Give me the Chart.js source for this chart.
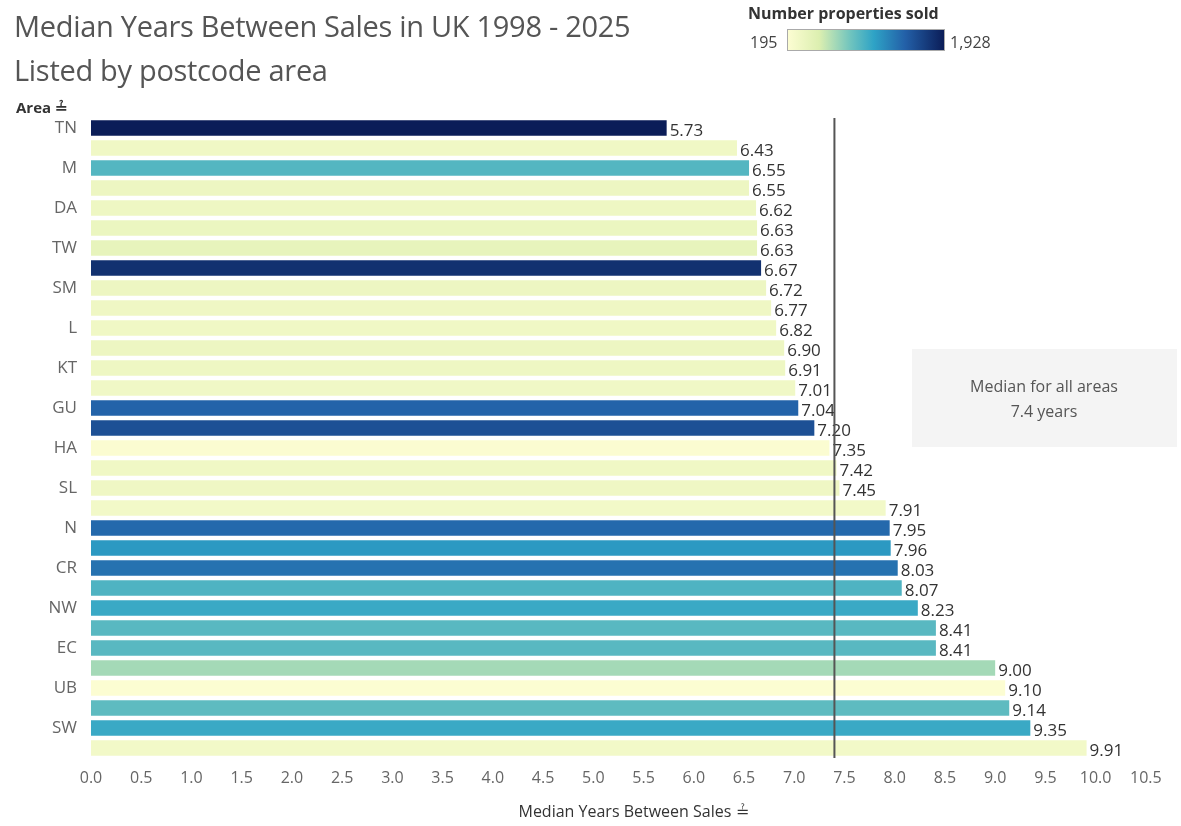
<!DOCTYPE html>
<html><head><meta charset="utf-8">
<script src="https://cdn.jsdelivr.net/npm/chart.js@4"></script>
<style>
body{margin:0;background:#fff;font-family:"Open Sans",sans-serif;}
#wrap{position:relative;width:1181px;height:826px;}
canvas{position:absolute;left:0;top:0;}
.t{position:absolute;left:14px;font-size:29px;color:#555;font-weight:400;letter-spacing:-0.3px}
#lg{position:absolute;left:748px;top:2px;font-size:16px;color:#333;font-weight:700}
#bar{position:absolute;left:787px;top:29px;width:158px;height:22px;border:1px solid #aaa;box-sizing:border-box;
background:linear-gradient(to right,#fcfdd2,#dcefb0 20%,#70c4be 40%,#2ea3c6 55%,#2360a8 75%,#0b1d58)}
.n{position:absolute;top:31px;font-size:16px;color:#444}
#area{position:absolute;left:16px;top:97px;font-size:15px;font-weight:700;color:#333}
</style></head><body>
<div id="wrap">
<canvas id="c" width="1181" height="826"></canvas>
<div class="t" style="top:6px">Median Years Between Sales in UK 1998 - 2025</div>
<div class="t" style="top:50px">Listed by postcode area</div>
<div id="lg">Number properties sold</div>
<div id="bar"></div>
<div class="n" style="left:750px">195</div>
<div class="n" style="left:950px">1,928</div>
<div id="area">Area ≟</div>
</div>
<script>
const areas=["TN","SP","M","SN","DA","RG","TW","RH","SM","RM","L","BR","KT","ME","GU","BN","HA","CT","SL","EN","N","SE","CR","E","NW","W","EC","WC","UB","B","SW","IG"];
const years=[5.73,6.43,6.55,6.55,6.62,6.63,6.63,6.67,6.72,6.77,6.82,6.90,6.91,7.01,7.04,7.20,7.35,7.42,7.45,7.91,7.95,7.96,8.03,8.07,8.23,8.41,8.41,9.00,9.10,9.14,9.35,9.91];
const sold=[1928,330,1000,360,350,380,420,1800,360,340,330,360,350,320,1480,1600,210,330,340,300,1450,1200,1400,1020,1100,980,980,720,200,960,1100,300];
const overallMedian=7.4;
const stops=[[0,[252,253,210]],[0.2,[220,239,176]],[0.4,[112,196,190]],[0.55,[46,163,198]],[0.75,[35,96,168]],[1,[11,29,88]]];
function col(v){const t=(v-195)/(1928-195);for(let i=1;i<stops.length;i++){if(t<=stops[i][0]){const a=stops[i-1],b=stops[i],f=(t-a[0])/(b[0]-a[0]);const c=a[1].map((x,k)=>Math.round(x+(b[1][k]-x)*f));return `rgb(${c})`;}}return 'rgb(11,29,88)';}
const plug={id:'p',afterDatasetsDraw(ch){const {ctx,chartArea:a,scales:{x,y}}=ch;
ctx.save();ctx.font='17px "Open Sans"';ctx.fillStyle='#333';ctx.textBaseline='middle';
ch.getDatasetMeta(0).data.forEach((b,i)=>{ctx.fillText(years[i].toFixed(2),b.x+3,b.y+3);});
const xm=x.getPixelForValue(overallMedian);ctx.strokeStyle='#555';ctx.lineWidth=2;ctx.beginPath();ctx.moveTo(xm,a.top);ctx.lineTo(xm,a.bottom);ctx.stroke();
ctx.fillStyle='#f4f4f4';ctx.fillRect(912,349,265,98);ctx.fillStyle='#555';ctx.textAlign='center';ctx.font='16px "Open Sans"';
ctx.fillText('Median for all areas',1044,387);ctx.fillText('7.4 years',1044,412);ctx.restore();}};
new Chart(document.getElementById('c'),{type:'bar',data:{labels:areas,datasets:[{data:years,backgroundColor:sold.map(col),categoryPercentage:1,barPercentage:0.78}]},
options:{indexAxis:'y',responsive:false,animation:false,layout:{padding:{top:118,right:5,left:0,bottom:0}},
plugins:{legend:{display:false},tooltip:{enabled:false}},
scales:{y:{grid:{display:false},border:{display:false},afterFit(s){s.width=91;},ticks:{color:'#666',font:{size:17,family:'"Open Sans"'},padding:6}},
x:{min:0,max:10.8,grid:{display:false},border:{display:false},afterFit(s){s.height=68;},
afterBuildTicks(s){s.ticks=[];for(let v=0;v<=10.5;v+=0.5)s.ticks.push({value:v});},
ticks:{color:'#666',font:{size:16,family:'"Open Sans"'},callback:v=>v.toFixed(1),maxRotation:0,autoSkip:false},
title:{display:true,text:'Median Years Between Sales ≟',color:'#333',font:{size:16,family:'"Open Sans"'},padding:{top:12}}}}},
plugins:[plug]});
</script></body></html>
